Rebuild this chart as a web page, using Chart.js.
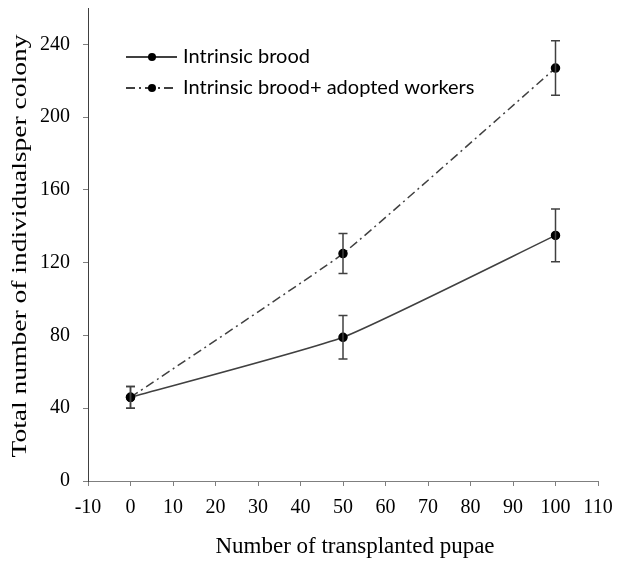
<!DOCTYPE html>
<html>
<head>
<meta charset="utf-8">
<script src="https://cdn.jsdelivr.net/npm/chart.js@4.4.1/dist/chart.umd.min.js"></script>
<style>
  html, body { margin: 0; padding: 0; background: #fff; }
  #wrap { width: 617px; height: 562px; position: relative; }
</style>
</head>
<body>
<div id="wrap"><canvas id="chart"></canvas></div>
<script>
const pupae = [0, 50, 100];
const intrinsic = [46, 79, 135];
const intrinsicErr = [6, 12, 14.5];
const adopted = [46, 125, 227];
const adoptedErr = [6, 11, 15];
const seriesNames = ["Intrinsic brood", "Intrinsic brood+ adopted workers"];
const xTitle = "Number of transplanted pupae";
const yTitle = "Total number of individualsper colony";

const lineColor = "#404040";
const axisColor = "#7f7f7f";
const dashDot = [9, 4, 2, 4];

function toPoints(values) {
  return pupae.map((x, i) => ({ x, y: values[i] }));
}

const errorBars = {
  id: "errorBars",
  afterDatasetsDraw(chart) {
    const { ctx, scales } = chart;
    const sets = [intrinsicErr, adoptedErr];
    ctx.save();
    ctx.strokeStyle = lineColor;
    ctx.lineWidth = 1.5;
    chart.data.datasets.forEach((ds, d) => {
      ds.data.forEach((p, i) => {
        const x = scales.x.getPixelForValue(p.x);
        const top = scales.y.getPixelForValue(p.y + sets[d][i]);
        const bottom = scales.y.getPixelForValue(p.y - sets[d][i]);
        ctx.beginPath();
        ctx.moveTo(x, top);
        ctx.lineTo(x, bottom);
        ctx.moveTo(x - 4.5, top);
        ctx.lineTo(x + 4.5, top);
        ctx.moveTo(x - 4.5, bottom);
        ctx.lineTo(x + 4.5, bottom);
        ctx.stroke();
      });
    });
    ctx.restore();
  }
};

const labels = {
  id: "labels",
  afterDraw(chart) {
    const { ctx } = chart;
    ctx.save();
    // legend
    ctx.font = "20px Lato";
    ctx.textBaseline = "middle";
    ctx.fillStyle = "#000";
    [57, 88].forEach((y, i) => {
      ctx.strokeStyle = "#000";
      ctx.lineWidth = 1.5;
      ctx.setLineDash(i === 0 ? [] : dashDot);
      ctx.beginPath();
      ctx.moveTo(126, y);
      ctx.lineTo(177, y);
      ctx.stroke();
      ctx.setLineDash([]);
      ctx.beginPath();
      ctx.arc(152, y, 4, 0, Math.PI * 2);
      ctx.fill();
      ctx.fillText(seriesNames[i], 183, y);
    });
    // axis titles
    ctx.font = "23px 'Liberation Serif'";
    ctx.textAlign = "center";
    ctx.fillText(xTitle, 355, 547);
    ctx.font = "22px 'Liberation Serif'";
    ctx.translate(20, 246);
    ctx.rotate(-Math.PI / 2);
    ctx.scale(423 / ctx.measureText(yTitle).width, 1);
    ctx.fillText(yTitle, 0, 0);
    ctx.restore();
  }
};

const tickFont = { family: "'Liberation Serif'", size: 20 };

new Chart(document.getElementById("chart"), {
  type: "scatter",
  data: {
    datasets: [
      {
        label: seriesNames[0],
        data: toPoints(intrinsic),
        showLine: true,
        borderColor: lineColor,
        borderWidth: 1.5,
        tension: 0.15,
        pointRadius: 4,
        pointBackgroundColor: "#000",
        pointBorderColor: "#000"
      },
      {
        label: seriesNames[1],
        data: toPoints(adopted),
        showLine: true,
        borderColor: lineColor,
        borderWidth: 1.5,
        borderDash: dashDot,
        tension: 0.1,
        pointRadius: 4,
        pointBackgroundColor: "#000",
        pointBorderColor: "#000"
      }
    ]
  },
  options: {
    responsive: true,
    maintainAspectRatio: false,
    animation: false,
    layout: { padding: { top: 8, right: 19, left: 0, bottom: 0 } },
    plugins: { legend: { display: false }, tooltip: { enabled: false } },
    scales: {
      x: {
        type: "linear",
        min: -10,
        max: 110,
        ticks: { stepSize: 10, font: tickFont, color: "#000", padding: 10, maxRotation: 0 },
        grid: { display: true, drawOnChartArea: false, drawTicks: true, tickLength: 5, color: axisColor },
        border: { color: axisColor, width: 1 },
        afterFit(scale) {
          scale.height = 81;
          scale.paddingLeft = 0;
          scale.paddingRight = 0;
        }
      },
      y: {
        min: 0,
        max: 260,
        ticks: { stepSize: 40, includeBounds: false, font: tickFont, color: "#000", padding: 13 },
        grid: { display: true, drawOnChartArea: false, drawTicks: true, tickLength: 5, color: axisColor },
        border: { color: "#404040", width: 1 },
        afterFit(scale) {
          scale.width = 88;
          scale.paddingTop = 0;
          scale.paddingBottom = 0;
        }
      }
    }
  },
  plugins: [errorBars, labels]
});
</script>
</body>
</html>
